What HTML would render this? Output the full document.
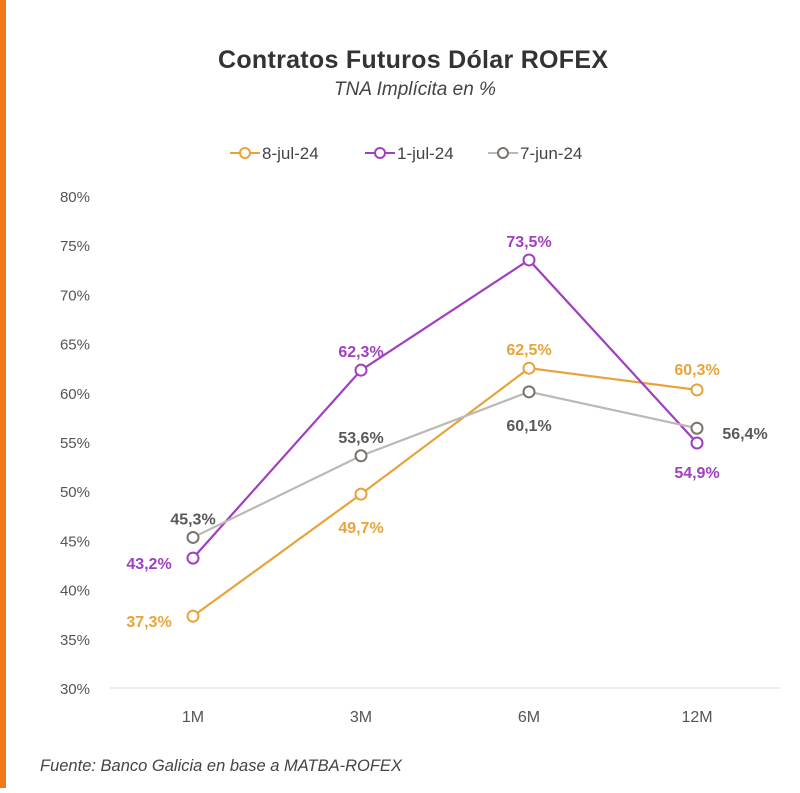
<!DOCTYPE html>
<html><head><meta charset="utf-8"><style>
body{margin:0;background:#fff;width:800px;height:788px;overflow:hidden;font-family:"Liberation Sans",sans-serif}
</style></head><body>
<svg width="800" height="788">
<rect x="0" y="0" width="6" height="788" fill="#F07A1A"/>
<text x="413" y="68" text-anchor="middle" font-size="25" font-weight="bold" fill="#333" textLength="390">Contratos Futuros Dólar ROFEX</text>
<text x="415" y="95" text-anchor="middle" font-size="19" font-style="italic" fill="#444">TNA Implícita en %</text>
<g id="legend"></g>
<g id="axes"></g>
<g id="series"></g>
<text x="40" y="771" font-size="16.5" font-style="italic" fill="#444">Fuente: Banco Galicia en base a MATBA-ROFEX</text>
</svg>
<script>
const categories=["1M","3M","6M","12M"];
const s8jul=[37.3,49.7,62.5,60.3];
const s1jul=[43.2,62.3,73.5,54.9];
const s7jun=[45.3,53.6,60.1,56.4];
const yTicks=[30,35,40,45,50,55,60,65,70,75,80];
const seriesNames=["8-jul-24","1-jul-24","7-jun-24"];
const NS="http://www.w3.org/2000/svg";
function mk(t,a,p){const e=document.createElementNS(NS,t);for(const k in a)e.setAttribute(k,a[k]);p.appendChild(e);return e;}
const x=i=>193+i*168;
const y=v=>688-(v-30)*(492/50);
const fmt=v=>v.toFixed(1).replace('.',',')+'%';
const axes=document.getElementById('axes');
yTicks.forEach(t=>{const e=mk('text',{x:90,y:y(t)+6,'text-anchor':'end','font-size':15,fill:'#555'},axes);e.textContent=t+'%';

});
const ax=mk('line',{x1:110,x2:780,y1:688,y2:688,stroke:'#d9d9d9','stroke-width':1},axes);


categories.forEach((c,i)=>{const e=mk('text',{x:x(i),y:722,'text-anchor':'middle','font-size':16,fill:'#555'},axes);e.textContent=c;

});
const colors=["#E8A33A","#A03FC0","#BDB8B3"];
const labelColors=["#E8A33A","#A03FC0","#595959"];
const data=[s8jul,s1jul,s7jun];
const offs=[
 [[-44,6],[0,34],[0,-18],[0,-20]],
 [[-44,6],[0,-18],[0,-18],[0,30]],
 [[0,-18],[0,-18],[0,34],[48,6]]];
const sg=document.getElementById('series');
data.forEach((d,si)=>{
 const g=mk('g',{},sg);
 
 
 const pl=mk('polyline',{points:d.map((v,i)=>x(i)+','+y(v)).join(' '),fill:'none',stroke:colors[si],'stroke-width':2.2},g);
 
 
 d.forEach((v,i)=>{
  const c=mk('circle',{cx:x(i),cy:y(v),r:5.5,fill:'#fff',stroke:si==2?'#7a736c':colors[si],'stroke-width':2},g);
  
  
  const t=mk('text',{x:x(i)+offs[si][i][0],y:y(v)+offs[si][i][1]+5,'text-anchor':'middle','font-size':16,'font-weight':'bold',fill:labelColors[si]},g);
  t.textContent=fmt(v);
  
  
 });
});
const lg=document.getElementById('legend');
const lx=[230,365,488];
seriesNames.forEach((n,i)=>{
 const g=mk('g',{},lg);
 
 
 mk('line',{x1:lx[i],x2:lx[i]+30,y1:153,y2:153,stroke:colors[i],'stroke-width':2},g);
 mk('circle',{cx:lx[i]+15,cy:153,r:5,fill:'#fff',stroke:i==2?'#7a736c':colors[i],'stroke-width':2},g);
 const t=mk('text',{x:lx[i]+32,y:159,'font-size':17,fill:'#444'},g);t.textContent=n;
});
</script>
</body></html>
